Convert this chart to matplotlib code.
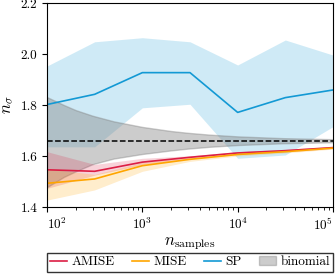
import matplotlib
matplotlib.use("Agg")
import matplotlib.pyplot as plt
from matplotlib.patches import Patch
from matplotlib.lines import Line2D

plt.rcParams['font.family'] = 'serif'
plt.rcParams['font.serif'] = ['cmr10']
plt.rcParams['mathtext.fontset'] = 'cm'
plt.rcParams['axes.unicode_minus'] = False
plt.rcParams['font.size'] = 9.5

# sample sizes (half-decade steps)
n_samples = [100, 316, 1000, 3162, 10000, 31623, 100000]

sp_mean = [1.802, 1.842, 1.927, 1.927, 1.771, 1.829, 1.859]
sp_upper = [1.953, 2.048, 2.064, 2.048, 1.957, 2.055, 1.996]
sp_lower = [1.636, 1.636, 1.789, 1.803, 1.591, 1.604, 1.715]

amise_mean = [1.546, 1.540, 1.576, 1.595, 1.612, 1.621, 1.633]
amise_upper = [1.617, 1.567, 1.591, 1.601, 1.617, 1.626, 1.637]
amise_lower = [1.473, 1.525, 1.566, 1.589, 1.607, 1.616, 1.629]

mise_mean = [1.493, 1.510, 1.562, 1.587, 1.606, 1.617, 1.631]
mise_upper = [1.550, 1.528, 1.575, 1.594, 1.611, 1.622, 1.635]
mise_lower = [1.427, 1.467, 1.540, 1.579, 1.600, 1.612, 1.627]

binom_n = [100, 150, 200, 300, 500, 1000, 2000, 3000, 5000, 10000, 30000, 100000]
binom_upper = [1.831, 1.800, 1.780, 1.758, 1.736, 1.714, 1.698, 1.691, 1.684, 1.677, 1.670, 1.666]
binom_lower = [1.478, 1.518, 1.540, 1.568, 1.590, 1.608, 1.622, 1.629, 1.636, 1.643, 1.650, 1.654]
binom_center = 1.66

c_amise = '#DC1E44'
c_mise = '#FFA500'
c_sp = '#1399D4'

y_ticks = [1.4, 1.6, 1.8, 2.0, 2.2]
x_ticks = [1e2, 1e3, 1e4, 1e5]
x_ticklabels = ['$10^2$', '$10^3$', '$10^4$', '$10^5$']

fig = plt.figure(figsize=(3.36, 2.76), dpi=100)
ax = fig.add_axes([0.140, 0.250, 0.851, 0.739])

ax.fill_between(n_samples, sp_lower, sp_upper, color=c_sp, alpha=0.2, lw=0)
ax.fill_between(binom_n, binom_lower, binom_upper, color='gray', alpha=0.4)
ax.fill_between(n_samples, amise_lower, amise_upper, color=c_amise, alpha=0.2, lw=0)
ax.fill_between(n_samples, mise_lower, mise_upper, color=c_mise, alpha=0.2, lw=0)

ax.plot(n_samples, sp_mean, color=c_sp, lw=1.2)
ax.plot(n_samples, amise_mean, color=c_amise, lw=1.2)
ax.plot(n_samples, mise_mean, color=c_mise, lw=1.2)
ax.axhline(binom_center, color='k', ls='--', lw=1.1)

ax.set_xscale('log')
ax.set_xlim(1e2, 1e5)
ax.set_ylim(1.4, 2.2)
ax.set_yticks(y_ticks)
ax.set_yticklabels(['%.1f' % v for v in y_ticks])
ax.set_xticks(x_ticks)
ax.set_xticklabels(x_ticklabels)
labs = ax.get_xticklabels()
labs[0].set_horizontalalignment('left')
labs[-1].set_horizontalalignment('right')

ax.set_xlabel(r'$n_{\mathrm{samples}}$', fontsize=12, labelpad=2)
ax.set_ylabel(r'$n_\sigma$', fontsize=12, labelpad=3)

handles = [Line2D([], [], color=c_amise, lw=1.2),
           Line2D([], [], color=c_mise, lw=1.2),
           Line2D([], [], color=c_sp, lw=1.2),
           Patch(facecolor='gray', alpha=0.4, edgecolor='gray')]
leg = ax.legend(handles, ['AMISE', 'MISE', 'SP', 'binomial'], ncol=4,
                loc='lower left', bbox_to_anchor=(0, -0.317, 1, 0.097),
                mode='expand', borderaxespad=0, fancybox=False, fontsize=9.5,
                handlelength=1.3, handletextpad=0.3, columnspacing=0.8,
                borderpad=0.25)
leg.get_frame().set_edgecolor('k')
leg.get_frame().set_linewidth(1.0)

fig.savefig('out.png', dpi=100)
